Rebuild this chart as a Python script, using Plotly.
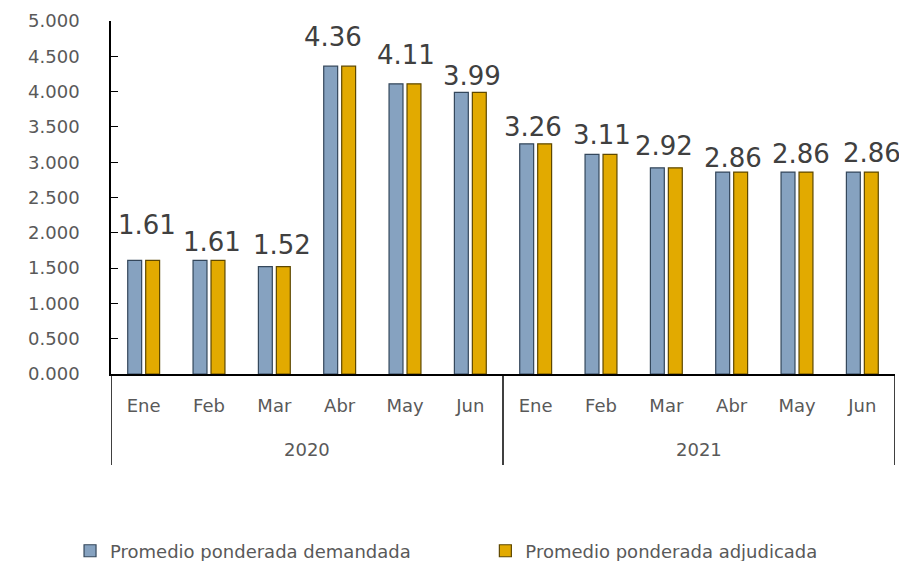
import plotly.graph_objects as go

years = ["2020", "2021"]
months = ["Ene", "Feb", "Mar", "Abr", "May", "Jun", "Ene", "Feb", "Mar", "Abr", "May", "Jun"]
demandada = [1.61, 1.61, 1.52, 4.36, 4.11, 3.99, 3.26, 3.11, 2.92, 2.86, 2.86, 2.86]
adjudicada = [1.61, 1.61, 1.52, 4.36, 4.11, 3.99, 3.26, 3.11, 2.92, 2.86, 2.86, 2.86]
labels = ["1.61", "1.61", "1.52", "4.36", "4.11", "3.99", "3.26", "3.11", "2.92", "2.86", "2.86", "2.86"]
ytick_vals = [0, 0.5, 1, 1.5, 2, 2.5, 3, 3.5, 4, 4.5, 5]

# label placement (pixel nudges, as in the original manually placed labels)
label_dx = [3, 3, 8, -7, 1, 2, -3, 1, -2, 1, 4, 10]
label_dy = [35, 18, 22, 29, 29, 16, 17, 19, 22, 14, 18, 19]

FONT = "DejaVu Sans"
GRAY = "#595959"
idx = list(range(len(months)))

fig = go.Figure()
fig.add_trace(go.Bar(
    x=idx, y=demandada, name="Promedio ponderada demandada",
    marker=dict(color="#86a2c0", line=dict(color="#34475b", width=1.2)),
    legend="legend", showlegend=True,
))
fig.add_trace(go.Bar(
    x=idx, y=adjudicada, name="Promedio ponderada adjudicada",
    marker=dict(color="#e2aa00", line=dict(color="#5e4800", width=1.2)),
    legend="legend2", showlegend=True,
))

for i, (v, t) in enumerate(zip(demandada, labels)):
    fig.add_annotation(x=idx[i], y=v, xref="x", yref="y", text=t, showarrow=False,
                       xanchor="center", yanchor="middle",
                       xshift=label_dx[i], yshift=label_dy[i],
                       font=dict(family=FONT, size=26, color="#404040"))

# year group labels and dividers
n_per_year = 6
for i, yr in enumerate(years):
    fig.add_annotation(x=i * n_per_year + (n_per_year - 1) / 2, y=-0.215, xref="x", yref="paper",
                       text=yr, showarrow=False, yanchor="middle",
                       font=dict(family=FONT, size=18, color=GRAY))
for b in range(len(years) + 1):
    fig.add_shape(type="line", xref="x", yref="paper",
                  x0=b * n_per_year - 0.5, x1=b * n_per_year - 0.5, y0=0, y1=-0.258,
                  line=dict(color="black", width=1.5))

fig.update_layout(
    width=899, height=553,
    margin=dict(l=103, r=12, t=13, b=187, autoexpand=False),
    paper_bgcolor="white", plot_bgcolor="white",
    showlegend=True,
    barmode="group", bargap=0.45, bargroupgap=0.225,
    font=dict(family=FONT, color=GRAY, size=18),
    legend=dict(orientation="h", xref="container", yref="container",
                x=0.069, xanchor="left", y=0.018, yanchor="middle",
                font=dict(family=FONT, size=18, color=GRAY), bgcolor="rgba(0,0,0,0)"),
    legend2=dict(orientation="h", xref="container", yref="container",
                 x=0.531, xanchor="left", y=0.018, yanchor="middle",
                 font=dict(family=FONT, size=18, color=GRAY), bgcolor="rgba(0,0,0,0)"),
    xaxis=dict(range=[-0.5, 11.5], tickmode="array", tickvals=idx, ticktext=months,
               showline=True, linecolor="black", linewidth=1.5, showgrid=False,
               zeroline=False, ticks="", automargin=False, ticklabelstandoff=15,
               tickfont=dict(family=FONT, size=18, color=GRAY)),
    yaxis=dict(range=[0, 5], tickmode="array", tickvals=ytick_vals, tickformat=".3f",
               showline=True, linecolor="black", linewidth=1.5, showgrid=False,
               zeroline=False, ticks="inside", ticklen=7, tickcolor="black",
               automargin=False,
               tickfont=dict(family=FONT, size=18, color=GRAY),
               ticklabelstandoff=26),
)

fig.write_html("out.html")
